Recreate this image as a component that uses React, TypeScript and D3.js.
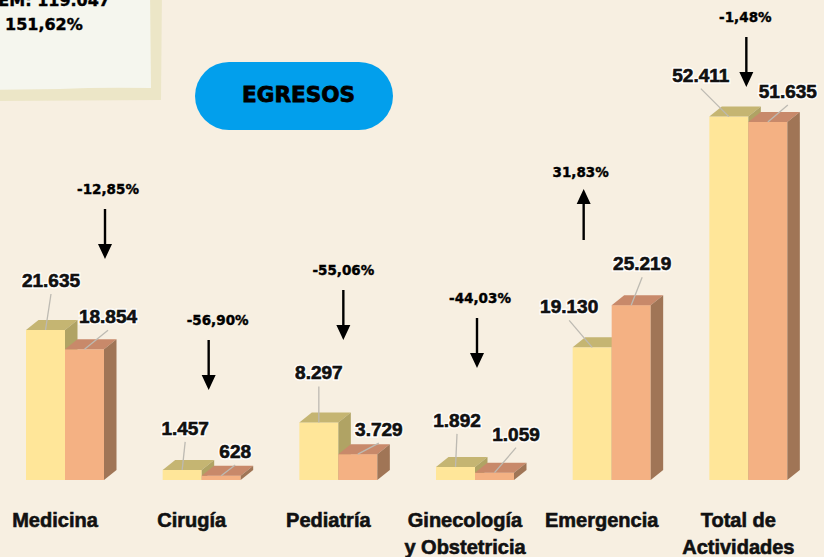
import React from 'react';
import * as d3 from 'd3';

// datos
const categorias = ['Medicina', 'Cirugía', 'Pediatría', 'Ginecología\ny Obstetricia', 'Emergencia', 'Total de\nActividades'];
const periodoAnterior = [21635, 1457, 8297, 1892, 19130, 52411];
const periodoActual = [18854, 628, 3729, 1059, 25219, 51635];
const variacion = [-12.85, -56.9, -55.06, -44.03, 31.83, -1.48];
const cajaTotal = 119047;
const cajaVariacion = 151.62;

// posicion de etiquetas (dx, dy desde la cara frontal de la barra)
const etiquetaA = [[5.5, -43], [3, -35], [0, -43], [1.5, -40], [-23, -34], [-28, -35]];
const etiquetaB = [[23.5, -26], [14, -17.6], [21, -18], [21.5, -32], [11, -35], [20, -24]];
// anotaciones: dx texto, linea base, dx flecha
const anotacion = [[43, 194, 40], [16, 325, 7], [5, 275, 5], [5, 303, 2], [-31, 177, -28], [-3, 22, -2]];

const W = 824;
const H = 557;
const DX = 12.5;
const DY = 10;

const loc = d3.formatLocale({ decimal: ',', thousands: '.', grouping: [3], currency: ['', ''], minus: '-' });
const fmtNum = loc.format(',d');
const fmtPct = (v: number) => loc.format('.2f')(v) + '%';

const colores = {
  A: { front: '#ffe699', top: '#c5b572', side: '#b0a364' },
  B: { front: '#f4b183', top: '#c8896a', side: '#a07556' },
};

const Barra = ({ x0, w, top, base, c }: any) => (
  <g>
    <rect x={x0} y={top} width={w} height={base - top} fill={c.front} />
    <polygon
      points={`${x0},${top} ${x0 + DX},${top - DY} ${x0 + w + DX},${top - DY} ${x0 + w},${top}`}
      fill={c.top}
    />
    <polygon
      points={`${x0 + w},${top} ${x0 + w + DX},${top - DY} ${x0 + w + DX},${base - DY} ${x0 + w},${base}`}
      fill={c.side}
    />
  </g>
);

const Flecha = ({ x, y1, y2 }: any) => {
  const dir = y2 > y1 ? 1 : -1;
  const hl = 15;
  const hw = 7;
  return (
    <g>
      <line x1={x} y1={y1} x2={x} y2={y2 - dir * hl + dir * 2} stroke="#000" strokeWidth={2.4} />
      <polygon points={`${x - hw},${y2 - dir * hl} ${x + hw},${y2 - dir * hl} ${x},${y2}`} fill="#000" />
    </g>
  );
};

export default function App() {
  const x = d3.scaleBand<string>().domain(categorias).range([-3.33, 816.67]);
  const sub = d3.scaleBand<string>().domain(['A', 'B']).range([-39, 39]);
  const y = d3.scaleLinear().domain([0, 60000]).range([480, 64]);
  const bw = sub.bandwidth();
  const base = y(0);

  return (
    <svg width={W} height={H} style={{ position: 'absolute', left: 0, top: 0 }}>
      <rect width={W} height={H} fill="#f7efe1" />

      {/* caja superior izquierda */}
      <path d="M-10,-10 L162,-10 L161,100 L-10,101 Z" fill="#ece6c7" />
      <path d="M-10,-10 L150,-10 L151,88 Q100,87 60,89 L-10,90 Z" fill="#f5f6ee" />
      <text x={110} y={6} textAnchor="end" fontFamily="DejaVu Sans" fontWeight="bold" fontSize={16} fill="#000"
        stroke="#000" strokeWidth={0.4}>
        EM: {fmtNum(cajaTotal)}
      </text>
      <text x={5} y={30} fontFamily="DejaVu Sans" fontWeight="bold" fontSize={16} fill="#000"
        stroke="#000" strokeWidth={0.4}>
        {fmtPct(cajaVariacion)}
      </text>

      {/* titulo */}
      <rect x={195} y={62} width={198} height={68} rx={34} fill="#029fec" />
      <text x={298.5} y={102} textAnchor="middle" fontFamily="DejaVu Sans" fontWeight="bold" fontSize={21.5}
        fill="#000" stroke="#000" strokeWidth={0.8}>
        EGRESOS
      </text>

      {categorias.map((cat, i) => {
        const cx = (x(cat) as number) + x.bandwidth() / 2;
        const xa = cx + (sub('A') as number);
        const xb = cx + (sub('B') as number);
        const ta = y(periodoAnterior[i]);
        const tb = y(periodoActual[i]);
        const fa = xa + bw / 2;
        const fb = xb + bw / 2;
        const la = [fa + etiquetaA[i][0], ta + etiquetaA[i][1]];
        const lb = [fb + etiquetaB[i][0], tb + etiquetaB[i][1]];
        const [adx, ay, fdx] = anotacion[i];
        const sube = variacion[i] > 0;
        return (
          <g key={cat}>
            <Barra x0={xa} w={bw} top={ta} base={base} c={colores.A} />
            <Barra x0={xb} w={bw} top={tb} base={base} c={colores.B} />

            <line x1={la[0]} y1={la[1] + 7} x2={fa} y2={ta} stroke="#bdbab2" strokeWidth={1.3} />
            <line x1={lb[0]} y1={lb[1] + 7} x2={fb} y2={tb} stroke="#bdbab2" strokeWidth={1.3} />
            {[[la, periodoAnterior[i]], [lb, periodoActual[i]]].map(([p, v]: any, k) => (
              <g key={k}>
                <text x={p[0]} y={p[1]} textAnchor="middle" fontFamily="Liberation Sans" fontWeight="bold"
                  fontSize={19} fill="#111" stroke="rgba(255,255,255,0.8)" strokeWidth={3.5}>
                  {fmtNum(v)}
                </text>
                <text x={p[0]} y={p[1]} textAnchor="middle" fontFamily="Liberation Sans" fontWeight="bold"
                  fontSize={19} fill="#111" stroke="#111" strokeWidth={0.6}>
                  {fmtNum(v)}
                </text>
              </g>
            ))}

            <text x={cx + adx} y={ay} textAnchor="middle" fontFamily="DejaVu Sans" fontWeight="bold" fontSize={13.5}
              fill="#000" stroke="#000" strokeWidth={0.4}>
              {fmtPct(variacion[i])}
            </text>
            {sube ? (
              <Flecha x={cx + fdx} y1={ay + 63} y2={ay + 12} />
            ) : (
              <Flecha x={cx + fdx} y1={ay + 15} y2={ay + 65} />
            )}

            <text x={cx - 10} y={527} textAnchor="middle" fontFamily="Liberation Sans" fontWeight="bold"
              fontSize={20} fill="#111" stroke="#111" strokeWidth={0.6}>
              {cat.split('\n').map((t, j) => (
                <tspan key={j} x={cx - 10} dy={j === 0 ? 0 : 27}>{t}</tspan>
              ))}
            </text>
          </g>
        );
      })}
    </svg>
  );
}
